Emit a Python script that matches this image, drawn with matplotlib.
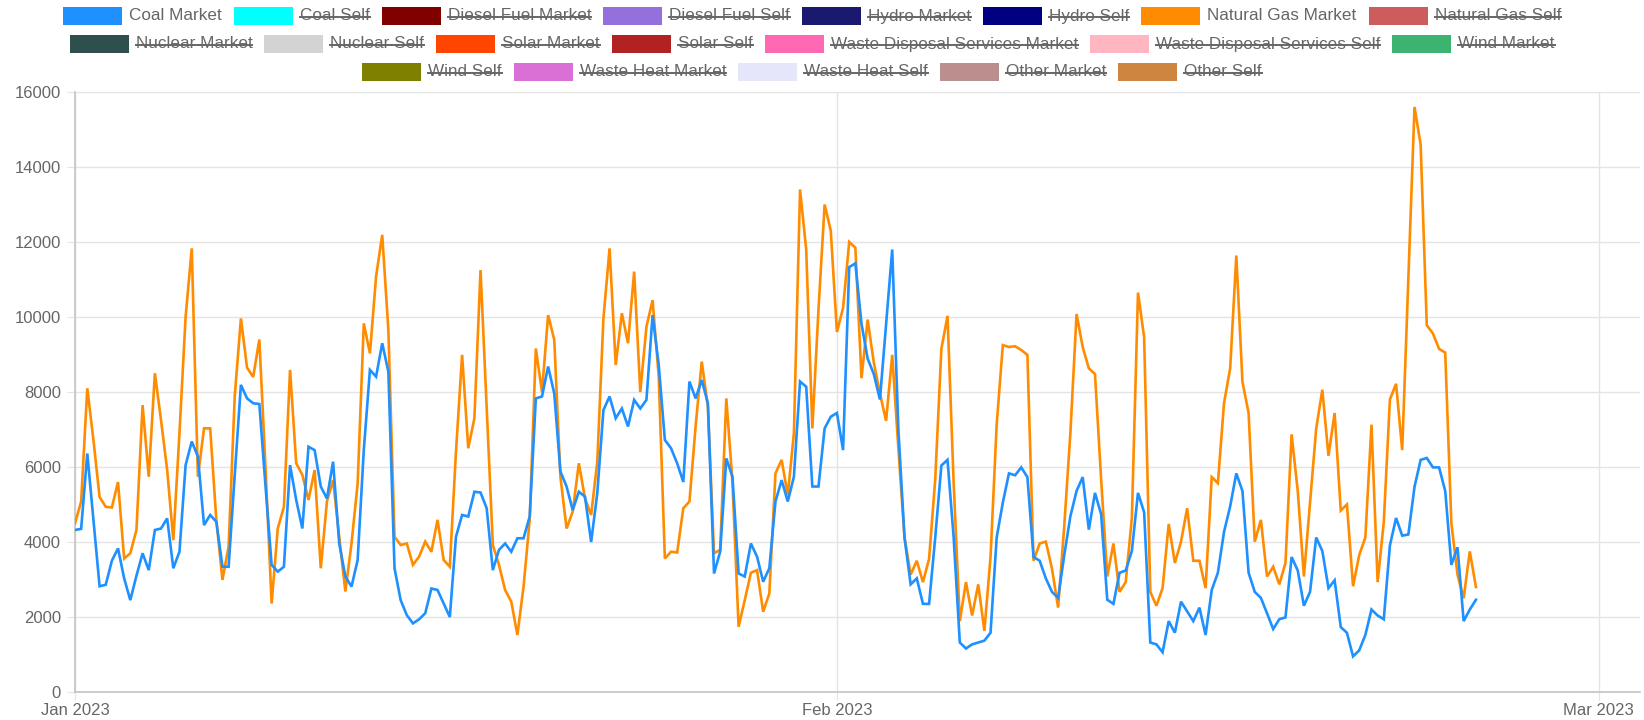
import numpy as np
import matplotlib.pyplot as plt
from matplotlib.patches import Rectangle

plt.rcParams['font.family'] = ['Liberation Sans', 'DejaVu Sans']

# 6-hourly values
coal_market = [
    4320, 4350, 6360, 4600, 2820, 2860, 3500, 3830, 3030, 2450,
    3100, 3700, 3250, 4320, 4360, 4630, 3300, 3740, 6050, 6680,
    6280, 4450, 4720, 4540, 3340, 3340, 5800, 8190, 7830, 7700,
    7680, 5500, 3390, 3210, 3340, 6050, 5120, 4360, 6540, 6450,
    5480, 5160, 6140, 3960, 3080, 2810, 3520, 6450, 8590, 8410,
    9300, 8540, 3300, 2450, 2050, 1830, 1940, 2100, 2760, 2720,
    2360, 2000, 4140, 4720, 4680, 5340, 5320, 4900, 3250, 3790,
    3960, 3740, 4100, 4100, 4680, 7830, 7880, 8680, 7960, 5880,
    5480, 4850, 5340, 5210, 4000, 5300, 7520, 7880, 7300, 7560,
    7080, 7790, 7560, 7790, 10050, 8720, 6720, 6500, 6100, 5600,
    8280, 7830, 8320, 7700, 3160, 3740, 6230, 5740, 3160, 3080,
    3960, 3610, 2940, 3300, 5080, 5650, 5080, 5740, 8280, 8140,
    5480, 5480, 7030, 7340, 7440, 6450, 11330, 11430, 9820, 8890,
    8480, 7800, 9800, 11800, 7000, 4120, 2870, 3030, 2350, 2350,
    4120, 6040, 6190, 4120, 1320, 1160, 1270, 1320, 1370, 1580,
    4120, 5050, 5830, 5780, 5990, 5730, 3600, 3500, 3030, 2670,
    2510, 3650, 4690, 5360, 5730, 4330, 5310, 4740, 2460, 2350,
    3180, 3240, 3760, 5310, 4790, 1320, 1270, 1060, 1890, 1580,
    2410, 2150, 1890, 2250, 1520, 2720, 3180, 4270, 4950, 5830,
    5360, 3180, 2670, 2510, 2100, 1680, 1940, 1990, 3600, 3240,
    2300, 2670, 4120, 3760, 2770, 2980, 1730, 1580, 950, 1110,
    1520, 2200, 2040, 1940, 3910, 4640, 4170, 4200, 5470, 6190,
    6240, 5990, 5990, 5360, 3390, 3860, 1890, 2200, 2460]

natural_gas_market = [
    4500, 5080, 8100, 6720, 5200, 4940, 4920, 5600, 3560, 3700,
    4320, 7650, 5740, 8500, 7250, 5920, 4050, 6900, 10000, 11830,
    5740, 7030, 7030, 4590, 2990, 3880, 7900, 9960, 8650, 8400,
    9400, 6000, 2360, 4360, 4940, 8590, 6100, 5790, 5120, 5920,
    3300, 5080, 5650, 4140, 2680, 3960, 5560, 9830, 9030, 11080,
    12190, 9650, 4140, 3920, 3960, 3390, 3610, 4010, 3740, 4590,
    3520, 3340, 6400, 8990, 6500, 7300, 11250, 7610, 3920, 3390,
    2720, 2410, 1520, 2810, 4590, 9160, 8000, 10050, 9390, 5740,
    4360, 4810, 6100, 5160, 4720, 6140, 9960, 11830, 8720, 10100,
    9300, 11210, 8000, 9740, 10450, 8410, 3560, 3740, 3720, 4900,
    5080, 7080, 8810, 7610, 3700, 3790, 7830, 5600, 1740, 2450,
    3180, 3250, 2140, 2630, 5830, 6190, 5250, 6900, 13400, 11800,
    7030, 10200, 13000, 12300, 9600, 10240, 12000, 11850, 8370, 9930,
    8790, 7960, 7230, 8990, 6500, 4120, 3130, 3500, 2930, 3550,
    5670, 9150, 10030, 5570, 1890, 2930, 2040, 2870, 1630, 3600,
    7130, 9250, 9200, 9220, 9120, 8990, 3500, 3960, 4010, 3290,
    2250, 4430, 6920, 10080, 9200, 8630, 8480, 5670, 3080, 3960,
    2670, 2930, 4640, 10650, 9460, 2670, 2300, 2770, 4480, 3440,
    4010, 4900, 3500, 3500, 2770, 5730, 5570, 7700, 8630, 11640,
    8270, 7440, 4010, 4590, 3080, 3340, 2870, 3440, 6870, 5360,
    3080, 5050, 7020, 8060, 6300, 7440, 4840, 5000, 2820, 3650,
    4120, 7130, 2930, 4530, 7800, 8220, 6450, 11000, 15600, 14600,
    9780, 9560, 9150, 9050, 4500, 3130, 2500, 3750, 2800]

tick_labels = ['Jan 2023', 'Feb 2023', 'Mar 2023']
tick_index = [0, 124, 248]

legend_rows = [
    ['Coal Market', 'Coal Self', 'Diesel Fuel Market', 'Diesel Fuel Self',
     'Hydro Market', 'Hydro Self', 'Natural Gas Market', 'Natural Gas Self'],
    ['Nuclear Market', 'Nuclear Self', 'Solar Market', 'Solar Self',
     'Waste Disposal Services Market', 'Waste Disposal Services Self', 'Wind Market'],
    ['Wind Self', 'Waste Heat Market', 'Waste Heat Self', 'Other Market', 'Other Self'],
]
legend_colors = {
    'Coal Market': '#1E90FF', 'Coal Self': '#00FFFF',
    'Diesel Fuel Market': '#800000', 'Diesel Fuel Self': '#9370DB',
    'Hydro Market': '#191970', 'Hydro Self': '#000080',
    'Natural Gas Market': '#FF8C00', 'Natural Gas Self': '#CD5C5C',
    'Nuclear Market': '#2F4F4F', 'Nuclear Self': '#D3D3D3',
    'Solar Market': '#FF4500', 'Solar Self': '#B22222',
    'Waste Disposal Services Market': '#FF69B4', 'Waste Disposal Services Self': '#FFB6C1',
    'Wind Market': '#3CB371', 'Wind Self': '#808000',
    'Waste Heat Market': '#DA70D6', 'Waste Heat Self': '#E6E6FA',
    'Other Market': '#BC8F8F', 'Other Self': '#CD853F',
}
shown = ['Coal Market', 'Natural Gas Market']

fig = plt.figure(figsize=(16.44, 7.2), dpi=100)
ax = fig.add_axes([75 / 1644, 28 / 720, 1565 / 1644, 600 / 720])

x = np.arange(len(coal_market))
ax.plot(x, natural_gas_market, color='#FF8C00', lw=1.9, zorder=3, solid_joinstyle='miter')
ax.plot(x, coal_market, color='#1E90FF', lw=1.9, zorder=4, solid_joinstyle='miter')

ax.set_xlim(0, 254.7)
ax.set_ylim(0, 16000)
ax.set_yticks(range(0, 16001, 2000))
ax.set_xticks(tick_index, tick_labels)
ax.grid(color='#e4e4e4', lw=1)
ax.set_axisbelow(True)
for s in ['top', 'right']:
    ax.spines[s].set_visible(False)
for s in ['left', 'bottom']:
    ax.spines[s].set_color('#c4c4c4')
    ax.spines[s].set_linewidth(1.2)
ax.tick_params(axis='y', length=6, color='#e4e4e4', labelcolor='#666666', labelsize=12, pad=4)
ax.tick_params(axis='x', length=6, color='#e4e4e4', labelcolor='#666666', labelsize=12, pad=2)

# legend drawn like the chart.js one: centred rows, hidden series struck through
lax = fig.add_axes([0, 0, 1, 1])
lax.set_xlim(0, 1644)
lax.set_ylim(720, 0)
lax.axis('off')
renderer = fig.canvas.get_renderer()
box_w, box_h, gap_in, gap_out = 59, 18, 7, 12
row_y = [16, 44, 72]
for row, y in zip(legend_rows, row_y):
    texts = [lax.text(0, y, name, fontsize=12.3, color='#666666', va='center', ha='left')
             for name in row]
    widths = [t.get_window_extent(renderer).width for t in texts]
    total = sum(box_w + gap_in + w for w in widths) + gap_out * (len(row) - 1)
    cur = 812 - total / 2
    for name, t, w in zip(row, texts, widths):
        lax.add_patch(Rectangle((cur, y - box_h / 2), box_w, box_h,
                                facecolor=legend_colors[name], edgecolor='none'))
        tx = cur + box_w + gap_in
        t.set_x(tx)
        if name not in shown:
            lax.plot([tx, tx + w], [y + 1, y + 1], color='#666666', lw=1.4)
        cur = tx + w + gap_out

fig.savefig('out.png', dpi=100)
